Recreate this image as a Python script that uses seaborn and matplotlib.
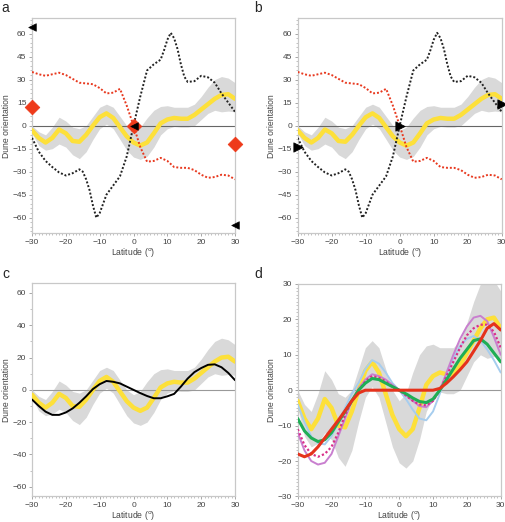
import numpy as np
import pandas as pd
import seaborn as sns
import matplotlib.pyplot as plt
from matplotlib.ticker import MultipleLocator

# latitude grid (2 degree steps) shared by most curves
lat = list(range(-30, 31, 2))

# mean dune orientation (yellow) and its spread (grey band)
mean_obs = [-3, -8, -11, -8, -2.5, -5, -10, -10.5, -6, 0, 5.5, 8, 5, -1, -7, -11,
            -13, -11, -5, 1.5, 4, 5, 4.5, 4.5, 7, 10.5, 14, 17.5, 20, 20.5, 17.5]
band_hi = [0, -4, -6, -1, 5.5, 3, -1, -2, 0, 6, 12, 14, 12, 6, 0, -3,
           -1, 5, 10, 12.5, 13, 12, 12, 12, 14, 19, 25, 30, 32, 31, 28]
band_lo = [-5, -13, -16, -15, -12, -14, -19, -21.5, -17, -9, -2, 1, -2, -9, -16, -20.5,
           -22, -20, -14, -6, -2, -0.5, -1, -1, 0, 4, 8, 10, 9, 9.5, 9]

# panels a/b: model orientations (dotted)
red_dot = [35, 33.5, 32.5, 33.5, 34.5, 33, 30.5, 28, 27.5, 27, 24.5, 21, 21.5, 24, 13, 0,
           -14, -23.5, -23, -21, -23, -27, -27.5, -27.5, -29, -32, -34, -33.5, -32, -32.5, -35]
lat_blk = [-30, -28, -26, -24, -22, -20, -18, -16, -15, -14, -13, -12, -11, -10, -9, -8,
           -6, -4, -2, 0, 2, 4, 6, 8, 9, 10, 11, 12, 13, 14, 15, 16, 18, 20, 22, 24, 26, 28, 30]
blk_dot = [-8, -17, -23, -27, -30.5, -32.5, -31, -28.5, -30, -35, -42, -52, -60, -57, -51, -45,
           -39, -33, -20, 0, 19, 36, 40, 43, 49, 56, 60.5, 57, 50, 40, 32, 28.5, 29, 32.5, 31.5, 28, 21, 15, 9]

# flux directions at the boundaries / equator
mk_lat = [-30, 0, 30]
a_diamond = [12, 0, -12]
a_tri = [64, 0, -65]
b_tri = [-14, 0, 14]

# panel c: fitted model (black)
c_fit = [-6, -10, -13.5, -15.5, -15.5, -14, -11.5, -8, -4, 0.5, 3.5, 5.5, 5, 4, 2, 0,
         -2, -3.8, -5.2, -5.2, -4, -2.5, 2, 7, 11, 13.5, 15.5, 15.8, 14, 10.5, 6]

# panel d: alternative models
d_red = [-18, -18.8, -18, -16, -13.5, -11, -8.5, -5.8, -3, -0.8, 0, 0, 0, 0, 0, 0,
         0, 0, 0, 0, 0, 0.5, 2, 3.8, 5.8, 8, 11, 14, 17.5, 18.8, 17]
d_green = [-8, -11.5, -13.5, -14.5, -14, -12, -9, -6, -3, 0, 2, 3.3, 3, 2, 1, 0,
           -1, -2.2, -3.2, -3.5, -2.5, 0, 3, 6, 9, 11.5, 14, 14.5, 13, 10.5, 8]
d_blue = [-4, -9, -13, -15, -15.3, -13, -9, -5, -1, 2, 6, 8.5, 7.5, 5, 2, 0,
          -2.5, -5.5, -8, -8.5, -6, -1, 4, 9, 12.5, 14.5, 15.3, 14, 11.5, 8.5, 5]
d_violet = [-12, -17, -20, -21, -20.5, -18, -13, -8, -3, 0.5, 3, 4.5, 4, 3, 1.5, 0,
            -1.5, -3, -4.5, -4.8, -3, 0, 5, 10, 14.5, 18, 20.5, 21, 19.5, 15, 10]
d_pink = [-11, -15.5, -18, -18.8, -18, -16, -12, -7, -3, 0, 2.5, 4, 3.5, 2.5, 1, 0,
          -1.5, -3, -4, -4.3, -3, 0, 4, 8, 12, 15.5, 17.5, 18.5, 18.5, 16.5, 12]

YELLOW = "#fde03a"
GREY = "#d9d9d9"
RED = "#e8391f"

sns.set_style("ticks")
plt.rcParams['font.family'] = ['Liberation Sans', 'DejaVu Sans']

fig = plt.figure(figsize=(5.05, 5.22), dpi=100)
pos = {"a": [0.0634, 0.5536, 0.402, 0.4114],
       "b": [0.5895, 0.5536, 0.404, 0.4114],
       "c": [0.0634, 0.049, 0.402, 0.4083],
       "d": [0.5895, 0.049, 0.402, 0.407]}
axs = {k: fig.add_axes(v) for k, v in pos.items()}


def base(ax, ylim, ymaj, ymin, zero_col):
    ax.fill_between(lat, band_lo, band_hi, color=GREY, lw=0, zorder=1)
    ax.axhline(0, color=zero_col, lw=0.8, zorder=2)
    sns.lineplot(x=lat, y=mean_obs, ax=ax, color=YELLOW, lw=3.2, zorder=3)
    ax.set_xlim(-30, 30)
    ax.set_ylim(*ylim)
    ax.xaxis.set_major_locator(MultipleLocator(10))
    ax.xaxis.set_minor_locator(MultipleLocator(1))
    ax.yaxis.set_major_locator(MultipleLocator(ymaj))
    ax.yaxis.set_minor_locator(MultipleLocator(ymin))
    for s in ax.spines.values():
        s.set_color("#c8c8c8")
        s.set_linewidth(0.9)
    ax.tick_params(which="major", length=2.5, width=0.6, color="#999999",
                   labelsize=6, labelcolor="#444444", pad=1.5)
    ax.tick_params(which="minor", length=1.3, width=0.5, color="#aaaaaa")
    ax.set_xlabel("Latitude ($^{\\rm o}$)", fontsize=6.2, color="#444444", labelpad=0)
    ax.set_ylabel("Dune orientation", fontsize=6.2, color="#444444", labelpad=1)


for k in ["a", "b"]:
    ax = axs[k]
    base(ax, (-70, 70), 15, 3, "#666666")
    sns.lineplot(x=lat, y=red_dot, ax=ax, color=RED, lw=1.4, ls=(0, (1, 1)), zorder=4)
    sns.lineplot(x=lat_blk, y=blk_dot, ax=ax, color="#222222", lw=1.4, ls=(0, (1, 1)), zorder=4)

ax = axs["a"]
sns.scatterplot(x=mk_lat, y=a_diamond, ax=ax, marker="D", s=55, color="#ee3a1a",
                edgecolor="#ee3a1a", zorder=6, clip_on=False)
sns.scatterplot(x=mk_lat, y=a_tri, ax=ax, marker="<", s=30, color="black",
                edgecolor="black", zorder=7, clip_on=False)

ax = axs["b"]
sns.scatterplot(x=mk_lat, y=b_tri, ax=ax, marker=">", s=45, color="black",
                edgecolor="black", zorder=7, clip_on=False)

ax = axs["c"]
base(ax, (-66, 66), 20, 10, "#999999")
sns.lineplot(x=lat, y=c_fit, ax=ax, color="black", lw=1.4, zorder=5)

ax = axs["d"]
base(ax, (-30, 30), 10, 1, "#999999")
sns.lineplot(x=lat, y=d_blue, ax=ax, color="#a6cdee", lw=1.4, zorder=4)
sns.lineplot(x=lat, y=d_violet, ax=ax, color="#c97fcf", lw=1.4, zorder=4)
sns.lineplot(x=lat, y=d_pink, ax=ax, color="#d8308a", lw=1.6, ls=(0, (1, 1)), zorder=4)
sns.lineplot(x=lat, y=d_green, ax=ax, color="#1fae55", lw=2.2, zorder=5)
sns.lineplot(x=lat, y=d_red, ax=ax, color="#e5321c", lw=2.2, zorder=5)

for k, (x, y) in {"a": (0.002, 0.985), "b": (0.503, 0.985),
                  "c": (0.004, 0.476), "d": (0.503, 0.476)}.items():
    fig.text(x, y, k, fontsize=10, va="center", ha="left")

fig.savefig("out.png", dpi=100)
